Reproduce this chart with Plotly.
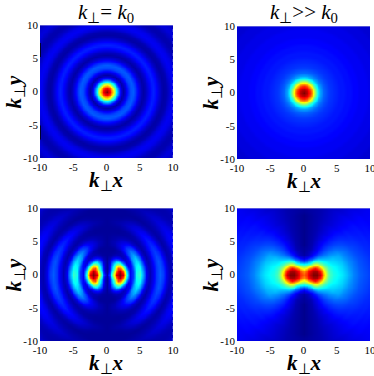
import numpy as np
import plotly.graph_objects as go

# Values, on the 0..1 colour scale.
r_values = [i * 0.5 for i in range(30)]
theta_values = [0, 15, 30, 45, 60, 75, 90]
tick_values = [-10, -5, 0, 5, 10]
tick_labels = ["-10", "-5", "0", "5", "10"]

panel1_radial = [1.0, .90, .68, .36, .12, .03, .10, .18, .20, .14, .07, .03, .06, .11, .14, .11,
                 .06, .03, .04, .08, .10, .09, .06, .04, .04, .06, .08, .07, .05, .04]
panel2_radial = [1.0, .95, .85, .65, .40, .27, .21, .18, .16, .15, .14, .13, .13, .12, .12, .11,
                 .11, .10, .10, .10, .09, .09, .09, .08, .08, .08, .07, .07, .07, .07]

panel3_polar = [
    [.03, .03, .03, .03, .03, .03, .03],
    [.20, .18, .14, .10, .06, .03, .02],
    [.55, .50, .36, .24, .13, .05, .02],
    [.92, .80, .60, .40, .22, .07, .02],
    [1.0, .97, .82, .52, .27, .08, .02],
    [.92, .82, .66, .42, .20, .06, .02],
    [.45, .38, .26, .16, .09, .03, .02],
    [.10, .09, .07, .05, .04, .02, .02],
    [.16, .14, .11, .07, .04, .02, .02],
    [.38, .34, .27, .18, .09, .04, .02],
    [.42, .38, .31, .22, .11, .05, .02],
    [.27, .25, .21, .17, .09, .04, .02],
    [.10, .09, .08, .07, .05, .03, .02],
    [.04, .04, .03, .03, .03, .02, .02],
    [.09, .08, .07, .05, .03, .02, .02],
    [.16, .15, .13, .09, .06, .03, .02],
    [.20, .19, .16, .12, .08, .04, .02],
    [.17, .16, .13, .10, .07, .03, .02],
    [.09, .09, .07, .05, .04, .02, .02],
    [.04, .04, .03, .03, .02, .02, .02],
    [.05, .05, .05, .04, .03, .02, .02],
    [.10, .10, .09, .06, .04, .03, .02],
    [.13, .13, .11, .08, .05, .03, .02],
    [.12, .12, .10, .07, .04, .03, .02],
    [.08, .08, .07, .05, .03, .02, .02],
    [.05, .05, .05, .04, .03, .02, .02],
    [.05, .05, .05, .04, .03, .02, .02],
    [.08, .08, .07, .05, .03, .02, .02],
    [.10, .10, .09, .07, .04, .03, .02],
    [.10, .10, .09, .07, .04, .03, .02],
]

panel4_polar = [
    [.80, .80, .80, .80, .80, .80, .80],
    [.85, .85, .83, .81, .79, .77, .75],
    [.95, .93, .90, .83, .72, .64, .60],
    [1.0, .98, .92, .76, .56, .44, .40],
    [1.0, .97, .88, .62, .36, .23, .18],
    [.94, .88, .72, .50, .25, .13, .08],
    [.74, .68, .52, .36, .16, .06, .03],
    [.54, .50, .40, .27, .13, .05, .02],
    [.43, .41, .34, .23, .11, .04, .02],
    [.39, .37, .31, .21, .11, .04, .01],
    [.37, .35, .30, .20, .11, .04, .01],
    [.35, .33, .28, .19, .11, .04, .01],
    [.33, .31, .27, .18, .10, .04, .01],
    [.30, .28, .24, .17, .10, .04, .01],
    [.27, .25, .22, .16, .09, .04, .01],
    [.24, .23, .20, .15, .09, .04, .01],
    [.22, .21, .18, .14, .09, .04, .01],
    [.20, .19, .17, .13, .08, .04, .01],
    [.19, .18, .16, .13, .08, .04, .01],
    [.18, .17, .15, .12, .08, .04, .02],
    [.17, .16, .14, .12, .08, .04, .02],
    [.16, .15, .14, .12, .08, .04, .02],
    [.15, .15, .13, .11, .07, .05, .02],
    [.14, .14, .13, .11, .07, .05, .02],
    [.14, .14, .12, .11, .07, .05, .02],
    [.13, .13, .12, .10, .07, .05, .02],
    [.13, .13, .12, .10, .07, .05, .02],
    [.12, .12, .11, .10, .07, .05, .02],
    [.12, .12, .11, .10, .07, .05, .02],
    [.12, .12, .11, .10, .07, .05, .02],
]

titles = ["<i>k</i><sub>⊥</sub>= <i>k</i><sub>0</sub>", "<i>k</i><sub>⊥</sub>>> <i>k</i><sub>0</sub>"]
x_label = "<b><i>k</i></b><sub>⊥</sub><b><i>x</i></b>"
y_label = "<b><i>k</i></b><sub>⊥</sub><b><i>y</i></b>"

jet = [[0, "rgb(0,0,130)"], [.11, "rgb(0,0,255)"], [.36, "rgb(0,255,255)"], [.50, "rgb(128,255,128)"],
       [.64, "rgb(255,255,0)"], [.89, "rgb(255,0,0)"], [1, "rgb(128,0,0)"]]

W, H = 374, 376
panels = [(40, 173, 25, 158), (237, 370, 26, 159), (40, 173, 208, 341), (237, 370, 208, 341)]
SERIF = "Liberation Serif"

# Heatmap grid: the read-off tables mapped from (r, theta) onto (x, y).
grid = np.arange(-10, 10.01, 0.25)
gx, gy = np.meshgrid(grid, grid)
gr = np.hypot(gx, gy)
gt = np.degrees(np.arctan2(np.abs(gy), np.abs(gx)))


def from_radial(profile):
    return np.interp(gr, r_values, profile)


def from_polar(table):
    table = np.array(table)
    by_theta = np.stack([np.interp(gr, r_values, table[:, j]) for j in range(len(theta_values))])
    idx = np.clip(gt / 15.0, 0, 5.999)
    lo = idx.astype(int)
    frac = idx - lo
    rows, cols = np.indices(gr.shape)
    return by_theta[lo, rows, cols] * (1 - frac) + by_theta[lo + 1, rows, cols] * frac


fields = [from_radial(panel1_radial), from_radial(panel2_radial), from_polar(panel3_polar), from_polar(panel4_polar)]

fig = go.Figure()
layout = {}
annotations = []
shapes = []
text_font = dict(family=SERIF, size=21, color="black")
for n, (field, (x0, x1, y0, y1)) in enumerate(zip(fields, panels), start=1):
    sx = "" if n == 1 else str(n)
    fig.add_trace(go.Heatmap(x=grid, y=grid, z=field, zmin=0, zmax=1, colorscale=jet, showscale=False,
                             zsmooth="best", xaxis="x" + sx, yaxis="y" + sx, hoverinfo="skip"))
    common = dict(range=[-10, 10], tickmode="array", tickvals=tick_values, ticktext=tick_labels, ticks="",
                  showgrid=False, zeroline=False, showline=False, ticklabelstandoff=1,
                  ticklabeloverflow="allow",
                  tickfont=dict(family=SERIF, size=11, color="black"))
    layout["xaxis" + sx] = dict(common, domain=[x0 / W, x1 / W], anchor="y" + sx)
    layout["yaxis" + sx] = dict(common, domain=[1 - y1 / H, 1 - y0 / H], anchor="x" + sx)
    xc = (x0 + x1) / 2
    place = dict(xref="paper", yref="paper", xanchor="center", yanchor="middle", showarrow=False, font=text_font)
    annotations.append(dict(place, text=x_label, x=xc / W, y=1 - (y1 + 23) / H))
    annotations.append(dict(place, text=y_label, x=(x0 - 26) / W, y=1 - ((y0 + y1) / 2) / H, textangle=-90))
    if n <= 2:
        annotations.append(dict(place, text=titles[n - 1], x=xc / W, y=1 - 13 / H))
    # Pale top edge of each image, as in the reference.
    shapes.append(dict(type="line", xref="x" + sx, yref="y" + sx, x0=-10, x1=10, y0=10, y1=10,
                       line=dict(color="rgb(170,170,225)", width=1)))
    if n in (1, 3):
        # Dotted right edge of the left-hand images.
        shapes.append(dict(type="line", xref="x" + sx, yref="y" + sx, x0=10, x1=10, y0=-10, y1=10,
                           line=dict(color="rgb(90,90,235)", width=1, dash="dot")))
    if n == 1:
        # Two short black marks on the first image's left edge.
        for y_a, y_b in ((5.2, 7.3), (-7.2, -5.1)):
            shapes.append(dict(type="line", xref="x", yref="y", x0=-10, x1=-10, y0=y_a, y1=y_b,
                               line=dict(color="black", width=1.5)))

fig.update_layout(width=W, height=H, margin=dict(l=0, r=0, t=0, b=0, autoexpand=False), paper_bgcolor="white",
                  plot_bgcolor="white", annotations=annotations, shapes=shapes, **layout)
fig.write_html("out.html", config={"displayModeBar": False},
               post_script="document.body.style.margin='0';document.body.style.overflow='hidden';")
